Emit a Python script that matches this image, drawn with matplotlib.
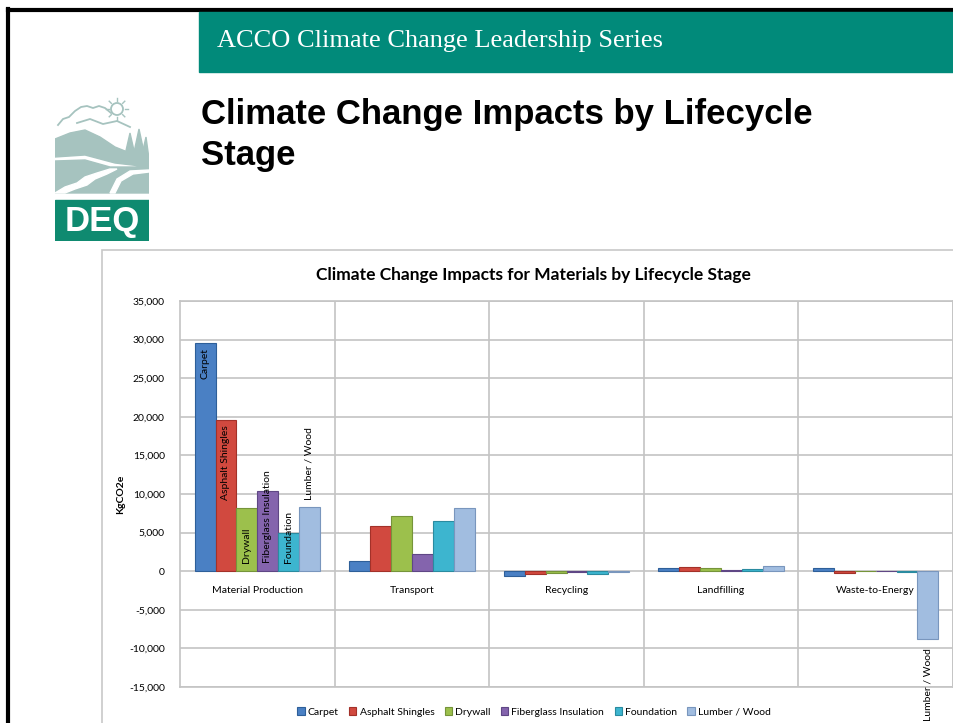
import numpy as np
import matplotlib.pyplot as plt
from matplotlib.patches import Rectangle, Polygon, Circle

stages = ["Material Production", "Transport", "Recycling", "Landfilling", "Waste-to-Energy"]
series = ["Carpet", "Asphalt Shingles", "Drywall", "Fiberglass Insulation", "Foundation", "Lumber / Wood"]
carpet = [29500, 1300, -600, 470, 350]
asphalt = [19550, 5900, -400, 500, -200]
drywall = [8200, 7150, -170, 350, 0]
fiberglass = [10450, 2250, -50, 180, 0]
foundation = [4950, 6550, -300, 300, -100]
lumber = [8350, 8250, -150, 650, -8800]
yticks = [-15000, -10000, -5000, 0, 5000, 10000, 15000, 20000, 25000, 30000, 35000]

colors = ["#4a80c4", "#d1493f", "#9cc04c", "#8464ad", "#3db5cf", "#a1bde0"]
edges = ["#2e5f99", "#a33129", "#76943a", "#5f4785", "#2a8ba0", "#7996bd"]

W, H = 954, 723
fig = plt.figure(figsize=(W / 100, H / 100), dpi=100)

def fx(px):
    return px / W

def fy(py):
    return 1 - py / H

# slide frame
fig.add_artist(plt.Line2D([fx(8), fx(8)], [0, fy(9)], color="black", lw=3))
fig.add_artist(plt.Line2D([fx(8), 1], [fy(10), fy(10)], color="black", lw=3))
fig.add_artist(Rectangle((fx(199), fy(72)), 1 - fx(199), fy(12) - fy(72),
                         transform=fig.transFigure, color="#018a7a", zorder=2))
fig.text(fx(217), fy(41), "ACCO Climate Change Leadership Series", color="white",
         family="Liberation Serif", fontsize=19, va="center", ha="left")
fig.text(fx(201), fy(124), "Climate Change Impacts by Lifecycle", family="Liberation Sans",
         fontweight="bold", fontsize=25, va="baseline", ha="left")
fig.text(fx(201), fy(165), "Stage", family="Liberation Sans",
         fontweight="bold", fontsize=25, va="baseline", ha="left")

# DEQ logo (rough)
lg = fig.add_axes([fx(55), fy(241), fx(149) - fx(55), fy(97) - fy(241)])
lg.set_xlim(0, 94)
lg.set_ylim(144, 0)
lg.axis("off")
lc = "#a6c3bf"
# upper mountain
lg.add_patch(Polygon([(0, 42), (15, 36), (30, 33), (45, 40), (60, 50), (75, 56), (94, 58),
                      (94, 70), (60, 66), (30, 58), (0, 60)], color=lc))
# lower hills
lg.add_patch(Polygon([(0, 64), (30, 63), (55, 70), (80, 70), (94, 68), (94, 96),
                      (0, 96)], color=lc))
# river
lg.add_patch(Polygon([(0, 96), (10, 90), (22, 86), (30, 80), (42, 76), (55, 72), (62, 72),
                      (52, 77), (40, 82), (32, 88), (20, 92), (10, 96)], color="white"))
lg.add_patch(Polygon([(55, 96), (62, 82), (75, 74), (94, 73), (94, 75), (78, 77), (66, 84),
                      (60, 96)], color="white"))
# trees
lg.add_patch(Polygon([(70, 58), (75, 36), (80, 58)], color=lc))
lg.add_patch(Polygon([(78, 60), (84, 32), (90, 60)], color=lc))
lg.add_patch(Polygon([(86, 62), (91, 40), (94, 62)], color=lc))
# cloud and sun
lg.plot([3, 8, 14, 20, 26, 32, 38, 44, 50, 56], [28, 22, 20, 14, 10, 9, 11, 9, 11, 16],
        color=lc, lw=1.3)
lg.plot([22, 35, 48, 62, 75], [26, 22, 27, 24, 30], color=lc, lw=1.3)
lg.add_patch(Circle((62, 12), 6, fill=False, ec=lc, lw=1.3))
for a in np.linspace(0, 2 * np.pi, 9)[:-1]:
    lg.plot([62 + 8 * np.cos(a), 62 + 11 * np.cos(a)], [12 + 8 * np.sin(a), 12 + 11 * np.sin(a)],
            color=lc, lw=1)
lg.add_patch(Rectangle((0, 103), 94, 41, color="#0f8a70"))
lg.text(47, 125, "DEQ", color="white", fontweight="bold", family="Liberation Sans",
        fontsize=25, ha="center", va="center")

# chart area border
fig.add_artist(Rectangle((fx(102), -0.01), 1.02 - fx(102), fy(250) + 0.01,
                         transform=fig.transFigure, fill=False, ec="#c8c8c8", lw=1.2))

font = "Lato"
fig.text(fx(533), fy(275), "Climate Change Impacts for Materials by Lifecycle Stage",
         family=font, fontweight="bold", fontsize=12.5, ha="center", va="center")

ax = fig.add_axes([fx(180), fy(687), fx(953) - fx(180), fy(301) - fy(687)])
x = np.arange(len(stages))
data = [carpet, asphalt, drywall, fiberglass, foundation, lumber]
bw = 0.135
for i, vals in enumerate(data):
    pos = x + (i - 2.5) * bw
    ax.bar(pos, vals, bw, color=colors[i], edgecolor=edges[i], linewidth=0.8,
           label=series[i], zorder=3)

# series name data labels
modes = ["inside", "inside", "base", "base", "base", "outside"]
for i, vals in enumerate(data):
    v = vals[0]
    px = (i - 2.5) * bw
    if modes[i] == "inside":
        ax.text(px, v - 600, series[i], rotation=90, ha="center", va="top",
                family=font, fontsize=7.5, zorder=4)
    elif modes[i] == "base":
        ax.text(px, 1000, series[i], rotation=90, ha="center", va="bottom",
                family=font, fontsize=7.5, zorder=4)
    else:
        ax.text(px, v + 900, series[i], rotation=90, ha="center", va="bottom",
                family=font, fontsize=7.5, zorder=4)
ax.text(4 + 2.5 * bw, lumber[4] - 1200, series[5], rotation=90, ha="center", va="top",
        family=font, fontsize=7.5, zorder=4, clip_on=False)

for j, s in enumerate(stages):
    ax.text(j, -2500, s, ha="center", va="center", family=font, fontsize=7.5, zorder=4)

ax.set_xlim(-0.5, len(stages) - 0.5)
ax.set_ylim(-15000, 35000)
ax.set_yticks(yticks)
ax.set_yticklabels([f"{t:,}" for t in yticks], family=font, fontsize=7.5)
ax.set_xticks(x + 0.5)
ax.set_xticklabels([])
ax.tick_params(length=0, pad=11)
ax.grid(True, color="#c4c4c4", lw=1.2, zorder=0)
for sp in ax.spines.values():
    sp.set_color("#c4c4c4")
    sp.set_linewidth(1.2)
ax.set_ylabel("KgCO2e", family=font, fontweight="bold", fontsize=7.5, labelpad=3)

ax.legend(loc="center", bbox_to_anchor=(0.458, -0.065), ncol=6, frameon=False,
          prop={"family": font, "size": 7.5}, handlelength=0.7, handleheight=0.7,
          handletextpad=0.3, columnspacing=1.0)

fig.savefig("out.png", dpi=100)
